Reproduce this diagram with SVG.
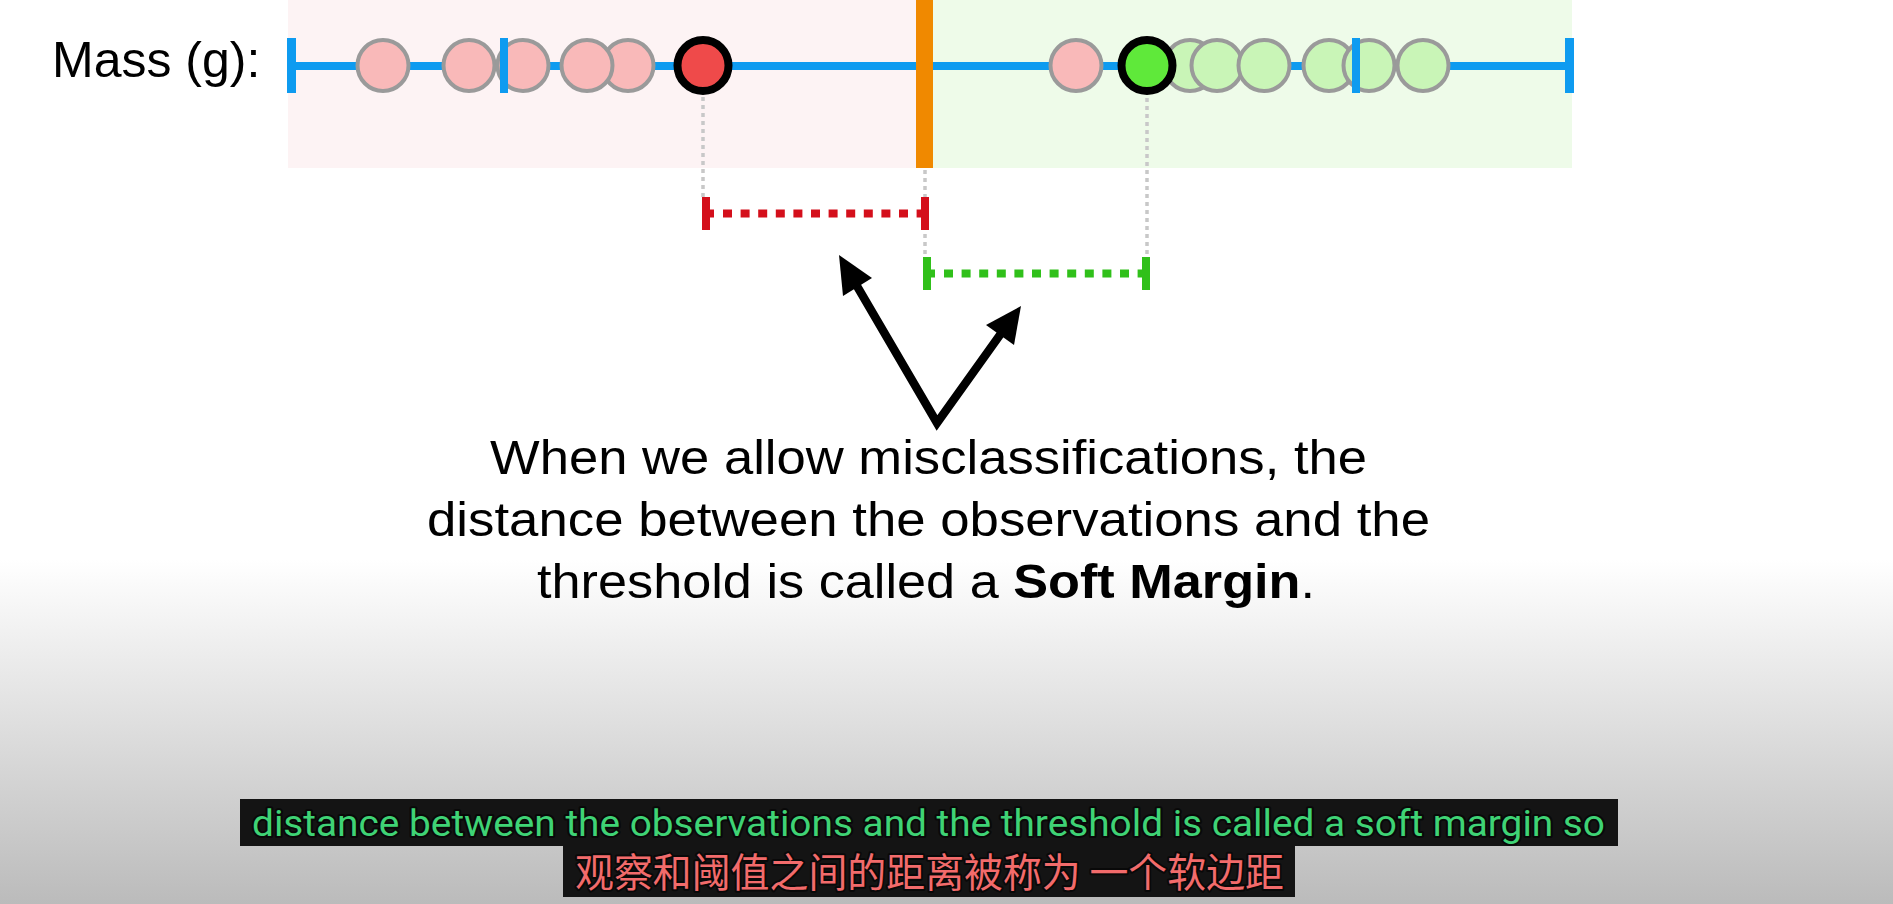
<svg xmlns="http://www.w3.org/2000/svg" width="1893" height="904" viewBox="0 0 1893 904">
<defs>
<linearGradient id="bg" x1="0" y1="0" x2="0" y2="1">
<stop offset="0" stop-color="#ffffff"/>
<stop offset="1" stop-color="#bbbbbb"/>
</linearGradient>
<style>
.lc{fill:#f9b9b9;stroke:#9a9a9a;stroke-width:4}
.gc{fill:#c9f5b7;stroke:#9a9a9a;stroke-width:4}
.tick{fill:#0e9bf0}
.body{font-family:"Liberation Sans",Arial,sans-serif;font-size:48px;fill:#000}
.sub{font-family:Roboto,"Noto Sans",sans-serif;font-size:36px;fill:#3fd375;stroke:#000;stroke-width:4;stroke-opacity:0.55;paint-order:stroke;stroke-linejoin:round}
.subcn{font-family:"Noto Sans CJK SC",sans-serif;font-size:40px;fill:#f26b6b;stroke:#000;stroke-width:4;stroke-opacity:0.55;paint-order:stroke;stroke-linejoin:round}
.guide{stroke:#c8c8c8;stroke-width:3.5;stroke-dasharray:4 4;fill:none}
</style>
</defs>
<rect x="0" y="0" width="1893" height="904" fill="#ffffff"/>
<rect x="0" y="560" width="1893" height="344" fill="url(#bg)"/>

<g id="regions">
<rect x="288" y="0" width="628" height="168" fill="#fdf3f4"/>
<rect x="933" y="0" width="639" height="168" fill="#eefbe9"/>
</g>

<g id="label">
<text x="52" y="77" font-family="Liberation Sans, Arial, sans-serif" font-size="50" fill="#000">Mass (g):</text>
</g>

<g id="axis">
<rect x="291" y="62" width="1278" height="8" class="tick"/>
<rect x="287" y="38" width="9" height="55" class="tick"/>
<rect x="1565" y="38" width="9" height="55" class="tick"/>
</g>

<g id="connectors">
<line x1="703" y1="97" x2="703" y2="197" class="guide"/>
<line x1="925" y1="170" x2="925" y2="257" class="guide"/>
<line x1="1147" y1="98" x2="1147" y2="257" class="guide"/>
<polyline points="855.1,282.9 937,423 1002.5,331.4" fill="none" stroke="#000" stroke-width="8.5" stroke-linejoin="miter"/>
<polygon points="839,255 872,278 843,296" fill="#000"/>
<polygon points="1021,306 1014,345 986,325" fill="#000"/>
</g>

<g id="pink-points">
<circle cx="383" cy="65.5" r="25.5" class="lc"/>
<circle cx="469" cy="65.5" r="25.5" class="lc"/>
<circle cx="523" cy="65.5" r="25.5" class="lc"/>
<circle cx="628" cy="65.5" r="25.5" class="lc"/>
<circle cx="587" cy="65.5" r="25.5" class="lc"/>
<circle cx="1076" cy="65.5" r="25.5" class="lc"/>
</g>

<g id="green-points">
<circle cx="1190" cy="65.5" r="25.5" class="gc"/>
<circle cx="1217" cy="65.5" r="25.5" class="gc"/>
<circle cx="1264" cy="65.5" r="25.5" class="gc"/>
<circle cx="1329" cy="65.5" r="25.5" class="gc"/>
<circle cx="1369" cy="65.5" r="25.5" class="gc"/>
<circle cx="1423" cy="65.5" r="25.5" class="gc"/>
</g>

<g id="hidden-ticks">
<rect x="500" y="38" width="8" height="55" class="tick"/>
<rect x="1352" y="38" width="8" height="55" class="tick"/>
</g>

<g id="threshold">
<rect x="916" y="0" width="17" height="168" fill="#f08900"/>
</g>

<g id="red-support">
<circle cx="703" cy="65.5" r="25.5" fill="#ef4a4a" stroke="#000" stroke-width="8"/>
</g>
<g id="green-support">
<circle cx="1147" cy="65.5" r="25.5" fill="#5fe93a" stroke="#000" stroke-width="8"/>
</g>

<g id="red-margin">
<rect x="702" y="197" width="8" height="33" fill="#d40f1b"/>
<rect x="921" y="197" width="8" height="33" fill="#d40f1b"/>
<line x1="710" y1="213.5" x2="921" y2="213.5" stroke="#d40f1b" stroke-width="8" stroke-dasharray="4 9 9 8.6 9 8.6 9 8.6 9 8.6 9 8.6 9 8.6 9 8.6 9 8.6 9 8.6 9 8.6 9 8.6 9 8.6 9 8.6 9"/>
</g>
<g id="green-margin">
<rect x="923" y="257" width="8" height="33" fill="#30c01a"/>
<rect x="1142" y="257" width="8" height="33" fill="#30c01a"/>
<line x1="931" y1="273.5" x2="1142" y2="273.5" stroke="#30c01a" stroke-width="8" stroke-dasharray="4 9 9 8.6 9 8.6 9 8.6 9 8.6 9 8.6 9 8.6 9 8.6 9 8.6 9 8.6 9 8.6 9 8.6 9 8.6 9 8.6 9"/>
</g>

<g id="caption">
<text class="body" x="490" y="474" textLength="877" lengthAdjust="spacingAndGlyphs">When we allow misclassifications, the</text>
<text class="body" x="427" y="536" textLength="1003" lengthAdjust="spacingAndGlyphs">distance between the observations and the</text>
<text class="body" x="537" y="598" textLength="778" lengthAdjust="spacingAndGlyphs">threshold is called a <tspan font-weight="bold">Soft Margin</tspan>.</text>
</g>

<g id="subtitles">
<rect x="240" y="799" width="1378" height="47" fill="#141414"/>
<rect x="563" y="846" width="732" height="51" fill="#141414"/>
<text class="sub" x="252" y="836" textLength="1353" lengthAdjust="spacingAndGlyphs">distance between the observations and the threshold is called a soft margin so</text>
<text class="subcn" x="575" y="887" textLength="709" lengthAdjust="spacingAndGlyphs">观察和阈值之间的距离被称为 一个软边距</text>
</g>
</svg>
